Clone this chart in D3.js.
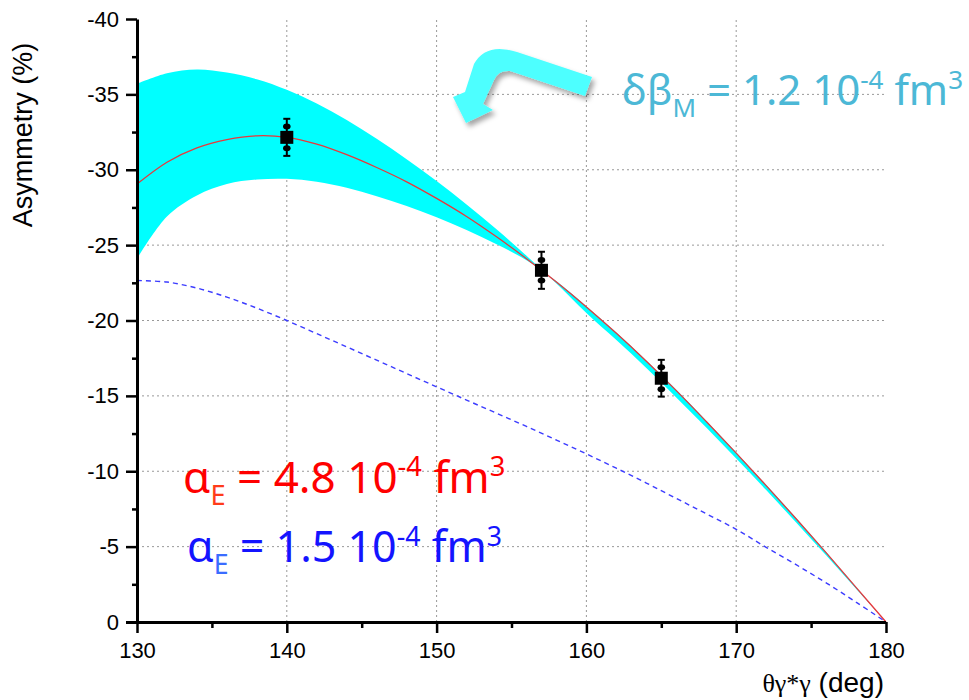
<!DOCTYPE html>
<html>
<head>
<meta charset="utf-8">
<script src="https://cdn.jsdelivr.net/npm/d3@7"></script>
<style>
  body { margin: 0; background: #fff; }
  svg { display: block; }
  .axis path, .axis line { stroke: #000; }
  .axis text { font-family: "Liberation Sans", Arial, sans-serif; fill: #000; }
  .grid line { stroke: #999; stroke-dasharray: 2,3; }
</style>
</head>
<body>
<div id="chart"></div>
<script>
// angle grid (deg) for the calculated curves
var theta = [130, 132, 134, 136, 138, 140, 142, 144, 146, 148, 150, 152, 154,
             156, 158, 160, 162, 164, 166, 168, 170, 172, 174, 176, 178, 180];

// alpha_E = 4.8 (red, full line)
var red_curve = [-29.05, -30.5, -31.45, -32.0, -32.25, -32.15, -31.7, -31.0, -30.15,
                 -29.2, -28.1, -26.9, -25.55, -24.1, -22.55, -20.9, -19.15, -17.3,
                 -15.35, -13.3, -11.2, -9.05, -6.85, -4.6, -2.3, 0];

// alpha_E = 1.5 (blue, dashed)
var blue_curve = [-22.65, -22.55, -22.15, -21.55, -20.82, -20.0, -19.13, -18.25, -17.37,
                  -16.48, -15.6, -14.72, -13.85, -12.97, -12.07, -11.15, -10.2, -9.22,
                  -8.2, -7.18, -6.15, -4.95, -3.8, -2.6, -1.32, 0];

// delta beta_M band edges
var band_a = [-35.7, -36.4, -36.65, -36.45, -36.0, -35.3, -34.4, -33.3, -32.05,
              -30.7, -29.25, -27.7, -26.05, -24.3, -22.45, -20.5, -18.7, -16.85,
              -14.9, -12.9, -10.85, -8.75, -6.6, -4.42, -2.2, 0];
var band_b = [-24.1, -26.9, -28.3, -29.05, -29.35, -29.4, -29.2, -28.8, -28.25,
              -27.6, -26.85, -26.0, -25.05, -24.0, -22.6, -20.95, -19.2, -17.35,
              -15.4, -13.35, -11.25, -9.1, -6.9, -4.65, -2.33, 0];

// measured points
var pt_theta = [140, 157, 165];
var pt_value = [-32.15, -23.33, -16.17];
var pt_stat  = [0.72, 0.68, 0.73];
var pt_total = [1.23, 1.23, 1.22];

var x_ticks = [130, 140, 150, 160, 170, 180];
var y_ticks = [0, -5, -10, -15, -20, -25, -30, -35, -40];

var W = 969, H = 700;

var svg = d3.select('#chart').append('svg')
  .attr('width', W)
  .attr('height', H);

var x = d3.scaleLinear()
  .domain([130, 180])
  .range([137, 886]);

var y = d3.scaleLinear()
  .domain([0, -40])
  .range([622, 19]);

var gph = svg.append('g');

// grid
var grid = gph.append('g').attr('class', 'grid');

grid.selectAll('line.gx')
  .data(x_ticks.filter((d) => d > 130 && d < 180))
  .enter().append('line')
  .attr('x1', (d) => x(d)).attr('x2', (d) => x(d))
  .attr('y1', y(0)).attr('y2', y(-40));

grid.selectAll('line.gy')
  .data(y_ticks.filter((d) => d < 0 && d > -40))
  .enter().append('line')
  .attr('x1', x(130)).attr('x2', x(180))
  .attr('y1', (d) => y(d)).attr('y2', (d) => y(d));

var smooth = d3.curveCatmullRom.alpha(0.5);

// band
var band = theta.map((t, i) => ({ t: t, a: band_a[i], b: band_b[i] }));

gph.append('path')
  .datum(band)
  .attr('d', d3.area()
    .x((d) => x(d.t))
    .y0((d) => y(d.a))
    .y1((d) => y(d.b))
    .curve(smooth))
  .style('fill', '#00ffff');

var line = d3.line()
  .x((d) => x(d[0]))
  .y((d) => y(d[1]))
  .curve(smooth);

gph.append('path')
  .datum(theta.map((t, i) => [t, blue_curve[i]]))
  .attr('d', line)
  .style('fill', 'none')
  .style('stroke', '#3c3cff')
  .style('stroke-width', 1.4)
  .style('stroke-dasharray', '5,4');

gph.append('path')
  .datum(theta.map((t, i) => [t, red_curve[i]]))
  .attr('d', line)
  .style('fill', 'none')
  .style('stroke', '#e8383c')
  .style('stroke-width', 1.3);

// data points
var pts = pt_theta.map((t, i) => ({ t: t, v: pt_value[i], s: pt_stat[i], e: pt_total[i] }));

var pg = gph.selectAll('g.pt')
  .data(pts)
  .enter().append('g')
  .attr('class', 'pt');

pg.append('line')
  .attr('x1', (d) => x(d.t)).attr('x2', (d) => x(d.t))
  .attr('y1', (d) => y(d.v - d.e)).attr('y2', (d) => y(d.v + d.e))
  .style('stroke', '#000').style('stroke-width', 2);

[-1, 1].forEach((k) => {
  pg.append('line')
    .attr('x1', (d) => x(d.t) - 3.5).attr('x2', (d) => x(d.t) + 3.5)
    .attr('y1', (d) => y(d.v + k * d.e)).attr('y2', (d) => y(d.v + k * d.e))
    .style('stroke', '#000').style('stroke-width', 2);

  pg.append('ellipse')
    .attr('cx', (d) => x(d.t))
    .attr('cy', (d) => y(d.v + k * d.s))
    .attr('rx', 3.8).attr('ry', 3)
    .style('fill', '#000');
});

pg.append('rect')
  .attr('x', (d) => x(d.t) - 6.5)
  .attr('y', (d) => y(d.v) - 6.5)
  .attr('width', 13)
  .attr('height', 13)
  .style('fill', '#000');

// axes
var fmt = (d) => String(d);

gph.append('g')
  .attr('class', 'axis')
  .attr('transform', `translate(${x(130)},0)`)
  .call(d3.axisLeft(y).tickValues(d3.range(-2.5, -40, -5)).tickSize(5).tickFormat(''))
  .call((g) => g.select('.domain').remove())
  .selectAll('line').style('stroke-width', 2.5);

gph.append('g')
  .attr('class', 'axis')
  .attr('transform', `translate(0,${y(0)})`)
  .call(d3.axisBottom(x).tickValues(d3.range(135, 180, 10)).tickSize(6).tickFormat(''))
  .call((g) => g.select('.domain').remove())
  .selectAll('line').style('stroke-width', 2.5);

var ya = gph.append('g')
  .attr('class', 'axis')
  .attr('transform', `translate(${x(130)},0)`)
  .call(d3.axisLeft(y).tickValues(y_ticks).tickSize(11).tickSizeOuter(0).tickPadding(7).tickFormat(fmt));
ya.select('.domain').style('stroke-width', 3);
ya.selectAll('line').style('stroke-width', 2.5);
ya.selectAll('text').style('font-size', '22px');

var xa = gph.append('g')
  .attr('class', 'axis')
  .attr('transform', `translate(0,${y(0)})`)
  .call(d3.axisBottom(x).tickValues(x_ticks).tickSize(11).tickSizeOuter(0).tickPadding(9).tickFormat(fmt));
xa.select('.domain').attr('d', `M${x(130) - 11},0.5H${x(180)}`).style('stroke-width', 3);
xa.selectAll('line').style('stroke-width', 2.5);
xa.selectAll('text').style('font-size', '22px');

// axis titles
svg.append('text')
  .attr('transform', 'translate(32,135) rotate(-90)')
  .attr('text-anchor', 'middle')
  .style('font-family', '"Liberation Sans", Arial, sans-serif')
  .style('font-size', '27px')
  .text('Asymmetry (%)');

var xt = svg.append('text')
  .attr('x', 884)
  .attr('y', 692)
  .attr('text-anchor', 'end');
xt.append('tspan')
  .style('font-family', '"Liberation Serif", "Times New Roman", serif')
  .style('font-size', '26px')
  .text('θγ*γ');
xt.append('tspan')
  .style('font-family', '"Liberation Sans", Arial, sans-serif')
  .style('font-size', '28px')
  .text(' (deg)');

// annotations
function rich_text(x0, y0, size, parts) {
  var t = svg.append('text')
    .attr('x', x0)
    .attr('y', y0)
    .style('font-family', '"Noto Sans", "DejaVu Sans", sans-serif')
    .style('font-size', size + 'px');
  var shift = 0;
  parts.forEach((p) => {
    var target = p.k === 'sub' ? size * 0.28 : p.k === 'sup' ? -size * 0.38 : 0;
    t.append('tspan')
      .attr('dy', target - shift)
      .style('fill', p.c)
      .style('font-size', (p.k ? size * 0.62 : size) + 'px')
      .text(p.t);
    shift = target;
  });
  return t;
}

rich_text(622, 105, 42, [
  { t: 'δβ', c: '#4cb8d6' }, { t: 'M', k: 'sub', c: '#4cb8d6' },
  { t: ' = 1.2 10', c: '#4cb8d6' }, { t: '-4', k: 'sup', c: '#4cb8d6' },
  { t: ' fm', c: '#4cb8d6' }, { t: '3', k: 'sup', c: '#4cb8d6' }
]);

rich_text(183, 493, 44, [
  { t: 'α', c: '#ff0000' }, { t: 'E', k: 'sub', c: '#ff3b1a' },
  { t: ' = 4.8 10', c: '#ff0000' }, { t: '-4', k: 'sup', c: '#ff0000' },
  { t: ' fm', c: '#ff0000' }, { t: '3', k: 'sup', c: '#ff0000' }
]);

rich_text(187, 562, 43, [
  { t: 'α', c: '#1414ff' }, { t: 'E', k: 'sub', c: '#3a6cff' },
  { t: ' = 1.5 10', c: '#1414ff' }, { t: '-4', k: 'sup', c: '#1414ff' },
  { t: ' fm', c: '#1414ff' }, { t: '3', k: 'sup', c: '#1414ff' }
]);

// curved arrow pointing at the band
var defs = svg.append('defs');
var f = defs.append('filter').attr('id', 'shadow').attr('x', '-20%').attr('y', '-20%').attr('width', '150%').attr('height', '150%');
f.append('feDropShadow').attr('dx', 3).attr('dy', 4).attr('stdDeviation', 2.5).attr('flood-color', '#000').attr('flood-opacity', 0.35);

svg.append('path')
  .attr('d', 'M592,77 L517,52 Q486,42 474,64 L465,92 L453,97 L466,123 L493,110 L483,104 L494,80 Q498,70 510,71 L585,96 Z')
  .style('fill', '#4dffff')
  .style('filter', 'url(#shadow)');
</script>
</body>
</html>
